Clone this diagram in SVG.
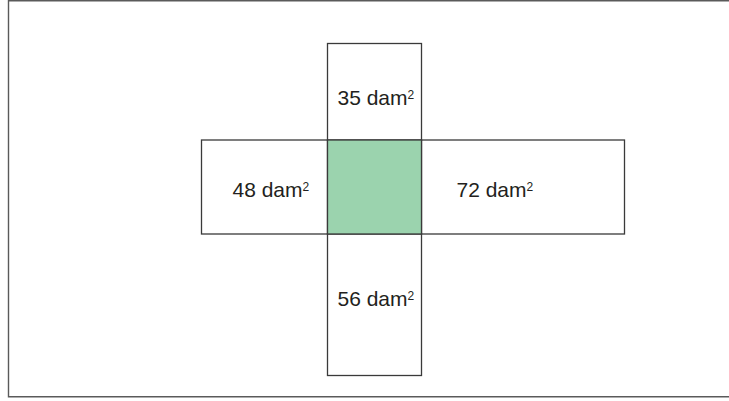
<svg xmlns="http://www.w3.org/2000/svg" width="729" height="401" viewBox="0 0 729 401">
<style>
.box{fill:#ffffff;stroke:#3a3a3a;stroke-width:1.3}
.center{fill:#9bd3ae;stroke:#3a3a3a;stroke-width:1.3}
.lbl{font-family:"Liberation Sans",Arial,sans-serif;font-size:21px;fill:#231f20}
.sup{font-size:12px}
</style>
<rect width="729" height="401" fill="#ffffff"/>
<g id="frame">
<path d="M735 0.7 H8.5 V396.7 H735" fill="none" stroke="#5a5a5a" stroke-width="1.4"/>
</g>
<g id="connectors"></g>
<g id="left">
<rect class="box" x="201.5" y="140" width="126" height="94"/>
<text class="lbl" x="232.5" y="197">48 dam<tspan class="sup" dy="-6">2</tspan></text>
</g>
<g id="right">
<rect class="box" x="421.5" y="140" width="203" height="94"/>
<text class="lbl" x="456.5" y="197">72 dam<tspan class="sup" dy="-6">2</tspan></text>
</g>
<g id="top">
<rect class="box" x="327.5" y="43.5" width="94" height="96.5"/>
<text class="lbl" x="337.5" y="105">35 dam<tspan class="sup" dy="-6">2</tspan></text>
</g>
<g id="bottom">
<rect class="box" x="327.5" y="234" width="94" height="141.5"/>
<text class="lbl" x="337.5" y="306">56 dam<tspan class="sup" dy="-6">2</tspan></text>
</g>
<g id="center">
<rect class="center" x="327.5" y="140" width="94" height="94"/>
</g>
</svg>
